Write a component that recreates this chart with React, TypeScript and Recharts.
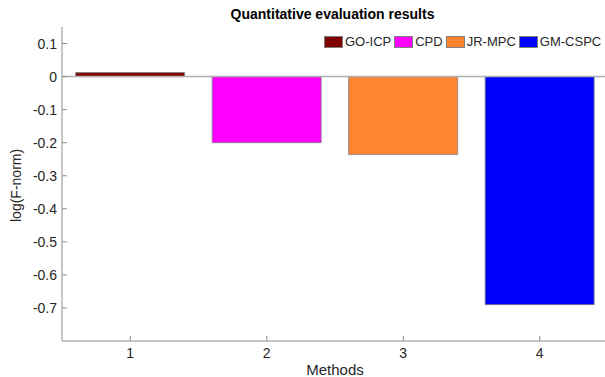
import React from 'react';
import { BarChart, Bar, XAxis, YAxis, Cell, ReferenceLine } from 'recharts';

const methods = ['1', '2', '3', '4'];
const methodNames = ['GO-ICP', 'CPD', 'JR-MPC', 'GM-CSPC'];
const logFNorm = [0.012, -0.2, -0.236, -0.69];
const colors = ['#800000', '#ff00ff', '#ff8533', '#0000ff'];
const yTicks = [-0.7, -0.6, -0.5, -0.4, -0.3, -0.2, -0.1, 0, 0.1];

const data = methods.map((m, i) => ({ method: m, name: methodNames[i], value: logFNorm[i] }));

const FONT = 'Liberation Sans, Arial, sans-serif';
const AXIS = '#8c8c8c';
const TEXT = '#262626';

const YTick = ({ x, y, payload }: any) => (
  <g>
    <line x1={x} y1={y} x2={x + 5} y2={y} stroke={AXIS} />
    <text x={x - 5} y={y} dy={5} textAnchor="end" fontSize={14} fill={TEXT} fontFamily={FONT}>
      {String(Math.round(payload.value * 10) / 10)}
    </text>
  </g>
);

const XTick = ({ x, y, payload }: any) => (
  <g>
    <line x1={x} y1={y} x2={x} y2={y - 5} stroke={AXIS} />
    <text x={x} y={y + 17} textAnchor="middle" fontSize={14} fill={TEXT} fontFamily={FONT}>
      {payload.value}
    </text>
  </g>
);

// legend drawn as an overlay so it doesn't take space from the plot
const LegendBox = () => (
  <div style={{ position: 'absolute', top: 34, left: 324, display: 'flex', alignItems: 'center', fontFamily: FONT, fontSize: 13, color: TEXT }}>
    {methodNames.map((n, i) => (
      <div key={n} style={{ display: 'flex', alignItems: 'center', marginRight: 3 }}>
        <span style={{ width: 17, height: 10, background: colors[i], border: '1px solid #7f7f7f', marginRight: 2 }} />
        <span>{n}</span>
      </div>
    ))}
  </div>
);

export default function App() {
  return (
    <div style={{ position: 'absolute', left: 0, top: 0, width: 605, height: 377, overflow: 'hidden', background: '#fff' }}>
      <div style={{ position: 'absolute', top: 6, left: 0, width: 665, textAlign: 'center', fontFamily: FONT, fontWeight: 'bold', fontSize: 14, color: '#000' }}>
        Quantitative evaluation results
      </div>
      <BarChart width={620} height={377} data={data} margin={{ top: 27, right: 12, bottom: 0, left: 0 }} barCategoryGap="10%">
        <YAxis
          width={62}
          domain={[-0.8, 0.15]}
          ticks={yTicks}
          tick={<YTick />}
          tickSize={0}
          tickMargin={0}
          tickLine={false}
          axisLine={{ stroke: AXIS }}
          allowDataOverflow
          label={{ value: 'log(F-norm)', angle: -90, position: 'insideLeft', offset: 16, dy: 38, fontSize: 14, fill: TEXT, fontFamily: FONT }}
        />
        <XAxis
          dataKey="method"
          height={36}
          tick={<XTick />}
          tickSize={0}
          tickMargin={0}
          tickLine={false}
          axisLine={{ stroke: AXIS }}
          label={{ value: 'Methods', position: 'insideBottom', offset: 0, dy: -2, fontSize: 15, fill: TEXT, fontFamily: FONT }}
        />
        <ReferenceLine y={0} stroke="#b0b0b0" strokeWidth={1.5} />
        <Bar dataKey="value" stroke="#7f7f7f" strokeWidth={0.8} isAnimationActive={false}>
          {data.map((d, i) => (
            <Cell key={d.method} fill={colors[i]} />
          ))}
        </Bar>
      </BarChart>
      <LegendBox />
    </div>
  );
}
